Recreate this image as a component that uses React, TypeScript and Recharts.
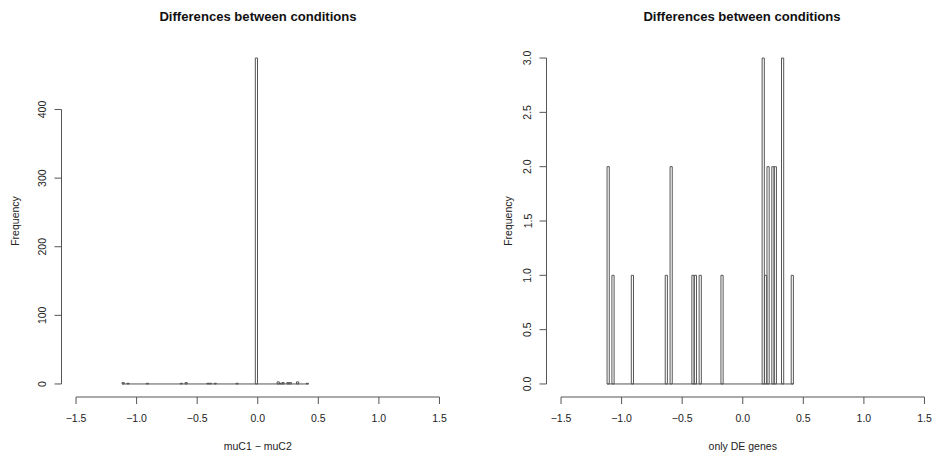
import React from "react";
import { ComposedChart, Bar, XAxis, YAxis, ReferenceLine, Label } from "recharts";

// histogram bins (lower edge), width 0.02
const binWidth = 0.02;

// all genes: muC1 - muC2
const allBinStarts = [-1.12, -1.08, -0.92, -0.64, -0.6, -0.42, -0.4, -0.36, -0.18, -0.02, 0.16, 0.18, 0.2, 0.24, 0.26, 0.32, 0.4];
const allCounts = [2, 1, 1, 1, 2, 1, 1, 1, 1, 475, 3, 1, 2, 2, 2, 3, 1];

// only DE genes
const deBinStarts = [-1.12, -1.08, -0.92, -0.64, -0.6, -0.42, -0.4, -0.36, -0.18, 0.16, 0.18, 0.2, 0.24, 0.26, 0.32, 0.4];
const deCounts = [2, 1, 1, 1, 2, 1, 1, 1, 1, 3, 1, 2, 2, 2, 3, 1];

const xTicks = [-1.5, -1, -0.5, 0, 0.5, 1, 1.5];
const leftYTicks = [0, 100, 200, 300, 400];
const rightYTicks = [0, 0.5, 1, 1.5, 2, 2.5, 3];

const FONT = "'Liberation Sans', Arial, Helvetica, sans-serif";
const INK = "#222";
const LINE = "#555";
const TICK = 7;

const fmtX = (v: number) => {
  const s = Math.abs(v).toFixed(1);
  return v < 0 ? "\u2212" + s : s;
};

interface HistProps {
  starts: number[];
  counts: number[];
  yTicks: number[];
  yFmt: (v: number) => string;
  xLabel: string;
  yAxisWidth: number;
  rightMargin: number;
  freqOffset: number;
}

function Hist({ starts, counts, yTicks, yFmt, xLabel, yAxisWidth, rightMargin, freqOffset }: HistProps) {
  const data = starts.map((s, i) => ({ mid: s + binWidth / 2, count: counts[i] }));
  const ymax = Math.max(...counts);
  const yDomain = [-0.04 * ymax, 1.04 * ymax];
  const xDomain = [-1.62, 1.62];
  const plotWidth = 392.5;
  const barPx = (plotWidth / (xDomain[1] - xDomain[0])) * binWidth;
  const first = starts[0];
  const last = starts[starts.length - 1] + binWidth;

  const XTick = ({ x, y, payload }: any) => (
    <text x={x} y={y + 14} textAnchor="middle" dominantBaseline="central" fontSize={10.5} fontFamily={FONT} fill={INK}>
      {fmtX(payload.value)}
    </text>
  );
  const YTick = ({ x, y, payload }: any) => (
    <text
      x={x - 12}
      y={y}
      transform={`rotate(-90, ${x - 12}, ${y})`}
      textAnchor="middle"
      dominantBaseline="central"
      fontSize={10.5}
      fontFamily={FONT}
      fill={INK}
    >
      {yFmt(payload.value)}
    </text>
  );

  return (
    <ComposedChart width={470} height={452} data={data} margin={{ top: 45, right: rightMargin, bottom: 0, left: 0 }}>
      <XAxis
        dataKey="mid"
        type="number"
        domain={xDomain}
        allowDataOverflow
        ticks={xTicks}
        interval={0}
        height={55}
        axisLine={false}
        tickLine={{ stroke: LINE }}
        tickSize={TICK}
        tickMargin={0}
        tick={<XTick />}
      >
        <Label
          content={(p: any) => {
            const vb = p.viewBox || {};
            return (
              <text x={vb.x + vb.width / 2} y={450} textAnchor="middle" fontSize={10.5} fontFamily={FONT} fill={INK}>
                {xLabel}
              </text>
            );
          }}
        />
      </XAxis>
      <YAxis
        type="number"
        domain={yDomain}
        allowDataOverflow
        ticks={yTicks}
        interval={0}
        width={yAxisWidth}
        axisLine={false}
        tickLine={{ stroke: LINE }}
        tickSize={TICK}
        tickMargin={0}
        tick={<YTick />}
      >
        <Label
          content={(p: any) => {
            const vb = p.viewBox || {};
            const cx = vb.x + vb.width - freqOffset;
            const cy = vb.y + vb.height / 2;
            return (
              <text
                x={cx}
                y={cy}
                transform={`rotate(-90, ${cx}, ${cy})`}
                textAnchor="middle"
                dominantBaseline="central"
                fontSize={10.5}
                fontFamily={FONT}
                fill={INK}
              >
                Frequency
              </text>
            );
          }}
        />
      </YAxis>
      {/* R style detached axis lines */}
      <ReferenceLine
        segment={[{ x: xTicks[0], y: yDomain[0] }, { x: xTicks[xTicks.length - 1], y: yDomain[0] }]}
        stroke={LINE}
        ifOverflow="visible"
      />
      <ReferenceLine
        segment={[{ x: xDomain[0], y: yTicks[0] }, { x: xDomain[0], y: yTicks[yTicks.length - 1] }]}
        stroke={LINE}
        ifOverflow="visible"
      />
      {/* empty bins inside the range */}
      <ReferenceLine segment={[{ x: first, y: 0 }, { x: last, y: 0 }]} stroke={LINE} ifOverflow="visible" />
      <Bar dataKey="count" barSize={barPx} fill="none" stroke={LINE} strokeWidth={1} isAnimationActive={false} />
    </ComposedChart>
  );
}

const titleStyle: React.CSSProperties = {
  position: "absolute",
  top: 9,
  width: 300,
  marginLeft: -150,
  textAlign: "center",
  fontFamily: FONT,
  fontWeight: "bold",
  fontSize: 13.1,
  lineHeight: "16px",
  color: "#111",
};

export default function App() {
  return (
    <div style={{ position: "absolute", left: 0, top: 0, width: 933, height: 452, overflow: "hidden", background: "#fff" }}>
      <div style={{ position: "absolute", left: 0, top: 0 }}>
        <Hist
          starts={allBinStarts}
          counts={allCounts}
          yTicks={leftYTicks}
          yFmt={(v) => String(v)}
          xLabel={"muC1 \u2212 muC2"}
          yAxisWidth={61.5}
          rightMargin={16}
          freqOffset={46.5}
        />
      </div>
      <div style={{ position: "absolute", left: 470, top: 0 }}>
        <Hist
          starts={deBinStarts}
          counts={deCounts}
          yTicks={rightYTicks}
          yFmt={(v) => v.toFixed(1)}
          xLabel="only DE genes"
          yAxisWidth={76.5}
          rightMargin={1}
          freqOffset={38.5}
        />
      </div>
      <div style={{ ...titleStyle, left: 258 }}>Differences between conditions</div>
      <div style={{ ...titleStyle, left: 742 }}>Differences between conditions</div>
    </div>
  );
}
